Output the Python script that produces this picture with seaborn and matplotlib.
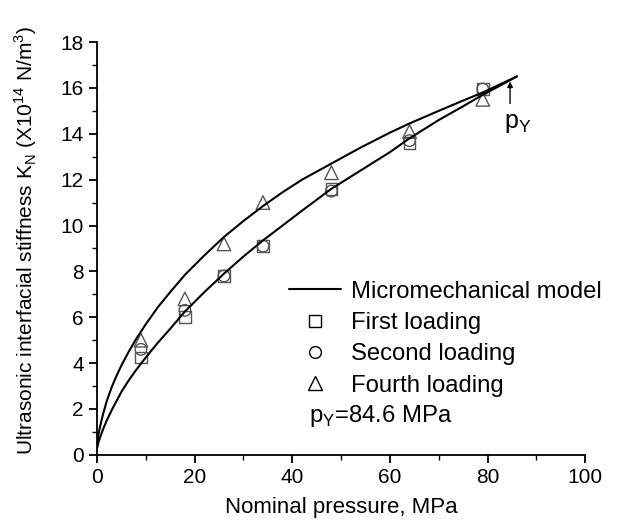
import numpy as np
import pandas as pd
import matplotlib
matplotlib.use('Agg')
import matplotlib.pyplot as plt
import seaborn as sns
from matplotlib.lines import Line2D
from matplotlib.ticker import MultipleLocator

# measured points
pressure = [9, 18, 26, 34, 48, 64, 79]
first_loading = [4.25, 6.0, 7.8, 9.1, 11.6, 13.6, 15.95]
second_loading = [4.6, 6.3, 7.8, 9.1, 11.5, 13.7, 15.95]
fourth_loading = [5.0, 6.8, 9.2, 11.0, 12.3, 14.1, 15.5]

# micromechanical model curves
upper_x = [0, 0.3, 0.7, 1.2, 2, 3, 4, 5, 6.5, 8, 10, 12.5, 15, 18, 22, 26, 30, 34, 38, 42,
           48, 54, 60, 64, 70, 75, 79, 83, 86]
upper_y = [0.3, 0.9, 1.3, 1.75, 2.35, 2.95, 3.45, 3.9, 4.5, 5.05, 5.7, 6.45, 7.1, 7.85, 8.7,
           9.5, 10.2, 10.85, 11.45, 12.0, 12.7, 13.4, 14.05, 14.45, 15.0, 15.45, 15.8, 16.2, 16.5]
lower_x = [0, 0.3, 0.7, 1.2, 2, 3, 4, 5, 6.5, 8, 10, 12.5, 15, 18, 22, 26, 30, 34, 38, 42,
           48, 54, 60, 64, 70, 75, 79, 83, 86]
lower_y = [0.3, 0.55, 0.8, 1.1, 1.5, 1.95, 2.35, 2.75, 3.25, 3.7, 4.25, 4.9, 5.5, 6.25, 7.1,
           7.9, 8.65, 9.35, 10.0, 10.65, 11.6, 12.4, 13.2, 13.8, 14.6, 15.2, 15.7, 16.15, 16.5]

p_yield = 84.6

sns.set_style('ticks', {'axes.edgecolor': 'black', 'text.color': 'black',
                        'axes.labelcolor': 'black', 'xtick.color': 'black',
                        'ytick.color': 'black'})
plt.rcParams['font.family'] = ['Liberation Sans', 'DejaVu Sans']
plt.rcParams['mathtext.fontset'] = 'custom'
plt.rcParams['mathtext.rm'] = 'Liberation Sans'

fig = plt.figure(figsize=(6.3, 5.32), dpi=100)
ax = fig.add_axes([0.154, 0.145, 0.775, 0.776])

curves = pd.concat([
    pd.DataFrame({'p': upper_x, 'k': upper_y, 'branch': 'upper'}),
    pd.DataFrame({'p': lower_x, 'k': lower_y, 'branch': 'lower'}),
])
sns.lineplot(data=curves, x='p', y='k', units='branch', estimator=None, sort=False,
             color='black', lw=1.5, ax=ax)

pts = pd.DataFrame({
    'p': pressure * 3,
    'k': first_loading + second_loading + fourth_loading,
    'set': ['First loading'] * 7 + ['Second loading'] * 7 + ['Fourth loading'] * 7,
})
mk = {'First loading': 's', 'Second loading': 'o', 'Fourth loading': '^'}
for name, m in mk.items():
    d = pts[pts['set'] == name]
    sns.scatterplot(data=d, x='p', y='k', marker=m, s=70 if m != '^' else 95,
                    facecolor='none', edgecolor='#555555', linewidth=1.0, ax=ax)

ax.set_xlim(0, 100)
ax.set_ylim(0, 18)
ax.xaxis.set_major_locator(MultipleLocator(20))
ax.xaxis.set_minor_locator(MultipleLocator(10))
ax.yaxis.set_major_locator(MultipleLocator(2))
ax.yaxis.set_minor_locator(MultipleLocator(1))
ax.tick_params(which='major', length=6, width=1.3, labelsize=15, colors='black')
ax.tick_params(which='minor', length=3.5, width=1.0, colors='black')
for s in ['left', 'bottom']:
    ax.spines[s].set_linewidth(1.3)
    ax.spines[s].set_color('black')
sns.despine(ax=ax)

ax.set_xlabel('Nominal pressure, MPa', fontsize=16, labelpad=7, color='black')
ax.set_ylabel(r'Ultrasonic interfacial stiffness K$_\mathregular{N}$ (X10$^\mathregular{14}$ N/m$^\mathregular{3}$)',
              fontsize=15, color='black')
ax.yaxis.set_label_coords(-0.118, 0.52)

ax.annotate('', xy=(p_yield, 16.4), xytext=(p_yield, 15.2),
            arrowprops=dict(arrowstyle='-|>', color='black', lw=1.0, mutation_scale=8))
ax.text(p_yield - 1.2, 15.0, r'p$_\mathregular{Y}$', fontsize=18, ha='left', va='top', color='black')

handles = [
    Line2D([], [], color='black', lw=1.5),
    Line2D([], [], marker='s', ls='none', mfc='none', mec='black', ms=8.5),
    Line2D([], [], marker='o', ls='none', mfc='none', mec='black', ms=8.5),
    Line2D([], [], marker='^', ls='none', mfc='none', mec='black', ms=10),
]
labels = ['Micromechanical model', 'First loading', 'Second loading', 'Fourth loading']
leg = ax.legend(handles, labels, loc='upper left', bbox_to_anchor=(0.373, 0.445), frameon=False,
                fontsize=17.2, handlelength=2.2, handletextpad=0.4, labelspacing=0.39,
                borderaxespad=0)
for t in leg.get_texts():
    t.set_color('black')
ax.text(43.4, 1.43, r'p$_\mathregular{Y}$=84.6 MPa', fontsize=17.2, ha='left', va='baseline',
        color='black')

fig.savefig('out.png', dpi=100)
